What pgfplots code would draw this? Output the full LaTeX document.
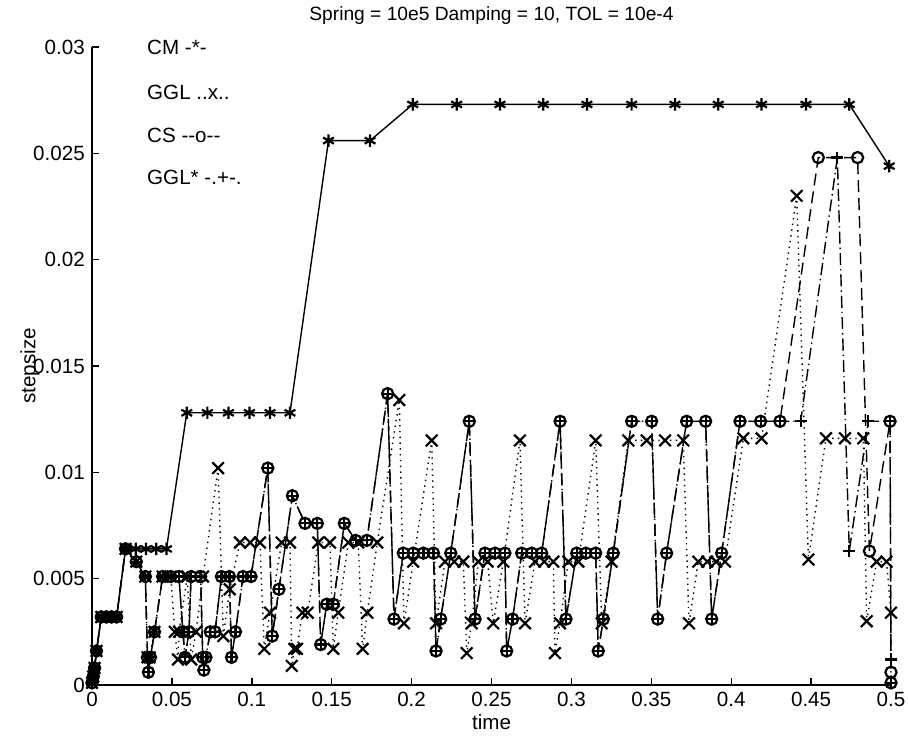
\documentclass[border=0pt]{standalone}
\usepackage{fontspec}
\setmainfont{Liberation Sans}
\usepackage{pgfplots}
\pgfplotsset{compat=1.18}
\begin{document}
\fontsize{10.3bp}{12bp}\selectfont
\begin{tikzpicture}
\begin{axis}[
  scale only axis,
  width=399.5bp, height=319bp,
  xmin=0, xmax=0.5, ymin=0, ymax=0.03,
  axis lines=left,
  axis line style={-, line width=0.8bp},
  tick align=inside,
  major tick length=3.5bp,
  tick style={line width=0.7bp, black},
  xtick={0,0.05,...,0.5},
  ytick={0,0.005,...,0.03},
  scaled x ticks=false, scaled y ticks=false,
  xticklabel style={/pgf/number format/fixed, /pgf/number format/precision=3},
  yticklabel style={/pgf/number format/fixed, /pgf/number format/precision=3},
  /pgf/number format/assume math mode=true,
  clip=false,
  every axis title shift=0pt,
  title={Spring = 10e5 Damping = 10, TOL = 10e-4},
  title style={at={(axis description cs:0.5,1.05)}, anchor=center, font=\fontsize{9.6bp}{11bp}\selectfont},
  xlabel={time},
  xlabel style={at={(axis description cs:0.5,-0.058)}, anchor=center},
  ylabel={stepsize},
  ylabel style={at={(axis description cs:-0.0776,0.5)}, anchor=center},
  every axis plot/.append style={line width=0.7bp, black},
]
% CM  (solid, asterisk)
\addplot[solid, mark=asterisk, mark size=3.1bp, mark options={solid, line width=1.1bp}] coordinates {
(0,0.0001)(0.0008,0.0004)(0.0016,0.0008)(0.0028,0.0016)(0.0058,0.0032)(0.0090,0.0032)(0.0122,0.0032)(0.0154,0.0032)
(0.0210,0.0064)(0.0274,0.0064)(0.0338,0.0064)(0.0402,0.0064)(0.0466,0.0064)
(0.0593,0.0128)(0.0722,0.0128)(0.0854,0.0128)(0.0985,0.0128)(0.1114,0.0128)(0.1239,0.0128)
(0.1480,0.0256)(0.1740,0.0256)
(0.2007,0.0273)(0.2282,0.0273)(0.2553,0.0273)(0.2824,0.0273)(0.3097,0.0273)(0.3377,0.0273)(0.3648,0.0273)(0.3919,0.0273)(0.4190,0.0273)(0.4468,0.0273)(0.4739,0.0273)
(0.4989,0.0244)
};
% GGL (dotted, x)
\addplot[dash pattern=on 0.7bp off 2.2bp, mark=x, mark size=4.1bp, mark options={solid, line width=1.1bp}] coordinates {
(0,0.0001)(0.0008,0.0004)(0.0016,0.0008)(0.0028,0.0016)(0.0058,0.0032)(0.0090,0.0032)(0.0122,0.0032)(0.0154,0.0032)
(0.0210,0.0064)(0.0277,0.0058)(0.0334,0.0051)(0.0347,0.0013)(0.0360,0.0013)(0.0391,0.0025)(0.0442,0.0051)(0.0493,0.0051)
(0.0518,0.0025)(0.0538,0.0012)(0.0545,0.0025)(0.0596,0.0051)(0.0621,0.0012)(0.0651,0.0025)(0.0695,0.0051)
(0.0789,0.0102)(0.0822,0.0023)(0.0862,0.0045)(0.0926,0.0067)(0.0990,0.0067)(0.1051,0.0067)(0.1078,0.0017)(0.1114,0.0034)
(0.1187,0.0067)(0.1239,0.0067)(0.1250,0.0009)(0.1266,0.0017)(0.1283,0.0017)(0.1317,0.0034)(0.1350,0.0034)
(0.1416,0.0067)(0.1489,0.0067)(0.1510,0.0017)(0.1541,0.0034)(0.1604,0.0067)(0.1666,0.0067)(0.1694,0.0017)(0.1723,0.0034)
(0.1785,0.0067)(0.1923,0.0134)(0.1952,0.0029)(0.2010,0.0058)(0.2126,0.0115)(0.2153,0.0029)(0.2209,0.0058)(0.2267,0.0058)
(0.2324,0.0058)(0.2345,0.0015)(0.2376,0.0029)(0.2418,0.0058)(0.2476,0.0058)(0.2511,0.0029)(0.2574,0.0058)(0.2678,0.0115)
(0.2710,0.0029)(0.2772,0.0058)(0.2830,0.0058)(0.2887,0.0058)(0.2897,0.0015)(0.2929,0.0029)(0.2981,0.0058)(0.3044,0.0058)
(0.3152,0.0115)(0.3190,0.0029)(0.3252,0.0058)(0.3356,0.0115)(0.3471,0.0115)(0.3586,0.0115)(0.3700,0.0115)(0.3736,0.0029)
(0.3794,0.0058)(0.3850,0.0058)(0.3906,0.0058)(0.3961,0.0058)(0.4076,0.0116)(0.4190,0.0116)(0.4410,0.0230)(0.4483,0.0059)
(0.4593,0.0116)(0.4712,0.0116)(0.4827,0.0116)(0.4848,0.0030)(0.4910,0.0058)(0.4972,0.0058)(0.5000,0.0034)
};
% CS (dashed, o)
\addplot[dash pattern=on 6bp off 3bp, mark=o, mark size=2.8bp, mark options={solid, line width=1.1bp}] coordinates {
(0,0.0001)(0.0008,0.0004)(0.0016,0.0008)(0.0028,0.0016)(0.0058,0.0032)(0.0090,0.0032)(0.0122,0.0032)(0.0154,0.0032)
(0.0210,0.0064)(0.0277,0.0058)(0.0334,0.0051)(0.0347,0.0013)(0.0353,0.0006)(0.0366,0.0013)(0.0391,0.0025)(0.0442,0.0051)
(0.0493,0.0051)(0.0544,0.0051)(0.0569,0.0025)(0.0582,0.0013)(0.0607,0.0025)(0.0620,0.0051)(0.0680,0.0051)(0.0693,0.0013)
(0.0700,0.0007)(0.0713,0.0013)(0.0740,0.0025)(0.0770,0.0025)(0.0810,0.0051)(0.0860,0.0051)(0.0873,0.0013)(0.0898,0.0025)
(0.0945,0.0051)(0.0995,0.0051)(0.1100,0.0102)(0.1128,0.0023)(0.1170,0.0045)(0.1254,0.0089)(0.1333,0.0076)(0.1410,0.0076)
(0.1431,0.0019)(0.1469,0.0038)(0.1510,0.0038)(0.1579,0.0076)(0.1650,0.0068)(0.1720,0.0068)(0.1850,0.0137)(0.1890,0.0031)
(0.1948,0.0062)(0.2010,0.0062)(0.2074,0.0062)(0.2137,0.0062)(0.2153,0.0016)(0.2182,0.0031)(0.2245,0.0062)(0.2361,0.0124)
(0.2397,0.0031)(0.2459,0.0062)(0.2522,0.0062)(0.2584,0.0062)(0.2595,0.0016)(0.2632,0.0031)(0.2689,0.0062)(0.2752,0.0062)
(0.2814,0.0062)(0.2929,0.0124)(0.2966,0.0031)(0.3033,0.0062)(0.3090,0.0062)(0.3152,0.0062)(0.3168,0.0016)(0.3200,0.0031)
(0.3262,0.0062)(0.3377,0.0124)(0.3502,0.0124)(0.3540,0.0031)(0.3596,0.0062)(0.3721,0.0124)(0.3840,0.0124)(0.3878,0.0031)
(0.3940,0.0062)(0.4055,0.0124)(0.4184,0.0124)(0.4305,0.0124)
(0.4545,0.0248)(0.4791,0.0248)(0.4865,0.0063)(0.4994,0.0124)(0.5000,0.0006)(0.5000,0.0001)
};
% GGL* (dash-dot, +)
\addplot[dash pattern=on 6bp off 2bp on 0.7bp off 2bp, mark=+, mark size=3bp, mark options={solid, line width=1.1bp}] coordinates {
(0,0.0001)(0.0008,0.0004)(0.0016,0.0008)(0.0028,0.0016)(0.0058,0.0032)(0.0090,0.0032)(0.0122,0.0032)(0.0154,0.0032)
(0.0210,0.0064)(0.0277,0.0058)(0.0334,0.0051)(0.0347,0.0013)(0.0353,0.0006)(0.0366,0.0013)(0.0391,0.0025)(0.0442,0.0051)
(0.0493,0.0051)(0.0544,0.0051)(0.0569,0.0025)(0.0582,0.0013)(0.0607,0.0025)(0.0620,0.0051)(0.0680,0.0051)(0.0693,0.0013)
(0.0700,0.0007)(0.0713,0.0013)(0.0740,0.0025)(0.0770,0.0025)(0.0810,0.0051)(0.0860,0.0051)(0.0873,0.0013)(0.0898,0.0025)
(0.0945,0.0051)(0.0995,0.0051)(0.1100,0.0102)(0.1128,0.0023)(0.1170,0.0045)(0.1254,0.0089)(0.1333,0.0076)(0.1410,0.0076)
(0.1431,0.0019)(0.1469,0.0038)(0.1510,0.0038)(0.1579,0.0076)(0.1650,0.0068)(0.1720,0.0068)(0.1850,0.0137)(0.1890,0.0031)
(0.1948,0.0062)(0.2010,0.0062)(0.2074,0.0062)(0.2137,0.0062)(0.2153,0.0016)(0.2182,0.0031)(0.2245,0.0062)(0.2361,0.0124)
(0.2397,0.0031)(0.2459,0.0062)(0.2522,0.0062)(0.2584,0.0062)(0.2595,0.0016)(0.2632,0.0031)(0.2689,0.0062)(0.2752,0.0062)
(0.2814,0.0062)(0.2929,0.0124)(0.2966,0.0031)(0.3033,0.0062)(0.3090,0.0062)(0.3152,0.0062)(0.3168,0.0016)(0.3200,0.0031)
(0.3262,0.0062)(0.3377,0.0124)(0.3502,0.0124)(0.3540,0.0031)(0.3596,0.0062)(0.3721,0.0124)(0.3840,0.0124)(0.3878,0.0031)
(0.3940,0.0062)(0.4055,0.0124)(0.4184,0.0124)(0.4305,0.0124)
(0.4435,0.0124)(0.4664,0.0248)(0.4739,0.0063)(0.4858,0.0124)(0.4994,0.0124)(0.5000,0.0012)(0.5000,0.0001)
};
\node[anchor=west] at (axis cs:0.030,0.0300) {CM -*-};
\node[anchor=west] at (axis cs:0.030,0.02785) {GGL ..x..};
\node[anchor=west] at (axis cs:0.030,0.02582) {CS -{}-o-{}-};
\node[anchor=west] at (axis cs:0.030,0.02385) {GGL* -.+-.};
\end{axis}
\pgfresetboundingbox
\path[use as bounding box] ([shift={(-46bp,-26.5bp)}]current axis.south west) rectangle ([shift={(8.5bp,23.5bp)}]current axis.north east);
\end{tikzpicture}
\end{document}
